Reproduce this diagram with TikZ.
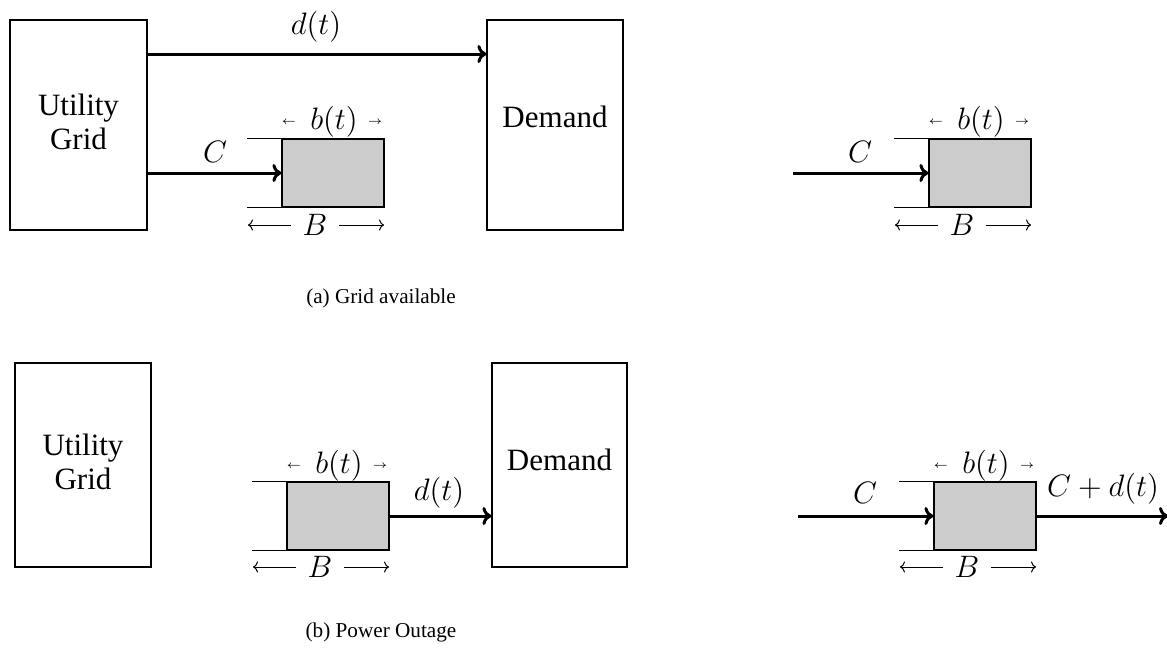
\RequirePackage{fix-cm}
\documentclass[tikz,border=0pt]{standalone}
\usepackage[no-math]{fontspec}
\setmainfont{Liberation Serif}
\usetikzlibrary{arrows.meta}
\newcommand{\dgfont}{\fontsize{15.5}{17}\selectfont}
\newcommand{\smallarrow}[1]{\raisebox{2.6pt}{\fontsize{5.5}{5.5}\selectfont$#1$}}
\newcommand{\blabel}{\smallarrow{\leftarrow}\hspace{7pt}$b(t)$\hspace{5pt}\smallarrow{\rightarrow}}
\begin{document}
\begin{tikzpicture}[x=0.5pt,y=-0.5pt,
  every node/.style={font=\dgfont},
  unitbox/.style={draw,line width=0.6pt,inner sep=0pt,align=center},
  battery/.style={draw,line width=0.6pt,fill=black!20,minimum width=51pt,minimum height=34pt,inner sep=0pt},
  flow/.style={line width=1.5pt,-{To[length=4.5pt,width=9pt]}},
  dim/.style={line width=0.5pt},
  dimtip/.style={{To[length=2.5pt,width=5.5pt]}-},
  lbl/.style={inner sep=0pt},
  bnode/.style={inner xsep=5.5pt,inner ysep=0pt},
  captionstyle/.style={font=\fontsize{10.6}{12}\selectfont,inner sep=0pt}]
\useasboundingbox (0,0) rectangle (1167,654);

% ---------- (a) Grid available ----------
\node[unitbox,minimum width=68.5pt,minimum height=105pt] (ugA) at (78.5,125) {};
\node[lbl,align=center] (ugAt) at (78.5,122) {Utility\\Grid};
\node[unitbox,minimum width=68pt,minimum height=105pt] (demA) at (555,125) {};
\node[lbl] (demAt) at (555,117) {Demand};

\coordinate (dA) at (0,54);
\draw[flow] (ugA.east |- dA) -- (demA.west |- dA);
\node[lbl] (dAl) at (316,27) {$d(t)$};

\node[battery] (bat1) at (333,173) {};
\draw[dim] (bat1.north west) -- ++(-34,0);
\draw[dim] (bat1.south west) -- ++(-34,0);
\draw[flow] (ugA.east |- bat1.west) -- (bat1.west);
\node[lbl] (C1) at (215,152) {$C$};
\node[lbl] (b1) at (332,122) {\blabel};
\node[bnode] (B1) at (315,225) {$B$};
\coordinate (B1l) at (248,225);
\coordinate (B1r) at (384,225);
\draw[dim,dimtip] (B1l) -- (B1.west);
\draw[dim,dimtip] (B1r) -- (B1.east);

\node[battery] (bat2) at (980,173) {};
\draw[dim] (bat2.north west) -- ++(-34,0);
\draw[dim] (bat2.south west) -- ++(-34,0);
\coordinate (in2) at (793,173);
\draw[flow] (in2) -- (bat2.west);
\node[lbl] (C2) at (860,152) {$C$};
\node[lbl] (b2) at (979,122) {\blabel};
\node[bnode] (B2) at (962,225) {$B$};
\coordinate (B2l) at (895,225);
\coordinate (B2r) at (1031,225);
\draw[dim,dimtip] (B2l) -- (B2.west);
\draw[dim,dimtip] (B2r) -- (B2.east);

\node[captionstyle] (capA) at (381,298) {(a) Grid available};

% ---------- (b) Power Outage ----------
\node[unitbox,minimum width=68pt,minimum height=102pt] (ugB) at (83,465) {};
\node[lbl,align=center] (ugBt) at (83,462) {Utility\\Grid};
\node[unitbox,minimum width=67.5pt,minimum height=102pt] (demB) at (559.5,465) {};
\node[lbl] (demBt) at (559.5,460) {Demand};

\node[battery] (bat3) at (338,516) {};
\draw[dim] (bat3.north west) -- ++(-34,0);
\draw[dim] (bat3.south west) -- ++(-34,0);
\draw[flow] (bat3.east) -- (demB.west |- bat3.east);
\node[lbl] (dBl) at (439,493) {$d(t)$};
\node[lbl] (b3) at (337,466) {\blabel};
\node[bnode] (B3) at (320,567) {$B$};
\coordinate (B3l) at (253,567);
\coordinate (B3r) at (389,567);
\draw[dim,dimtip] (B3l) -- (B3.west);
\draw[dim,dimtip] (B3r) -- (B3.east);

\node[battery] (bat4) at (985,516) {};
\draw[dim] (bat4.north west) -- ++(-34,0);
\draw[dim] (bat4.south west) -- ++(-34,0);
\coordinate (in4) at (798,516);
\coordinate (out4) at (1168,516);
\draw[flow] (in4) -- (bat4.west);
\draw[flow] (bat4.east) -- (out4);
\node[lbl] (C4) at (865,493) {$C$};
\node[lbl] (Cd4) at (1103,489) {$C+d(t)$};
\node[lbl] (b4) at (984,466) {\blabel};
\node[bnode] (B4) at (967,567) {$B$};
\coordinate (B4l) at (900,567);
\coordinate (B4r) at (1036,567);
\draw[dim,dimtip] (B4l) -- (B4.west);
\draw[dim,dimtip] (B4r) -- (B4.east);

\node[captionstyle] (capB) at (381,632) {(b) Power Outage};
\end{tikzpicture}
\end{document}
